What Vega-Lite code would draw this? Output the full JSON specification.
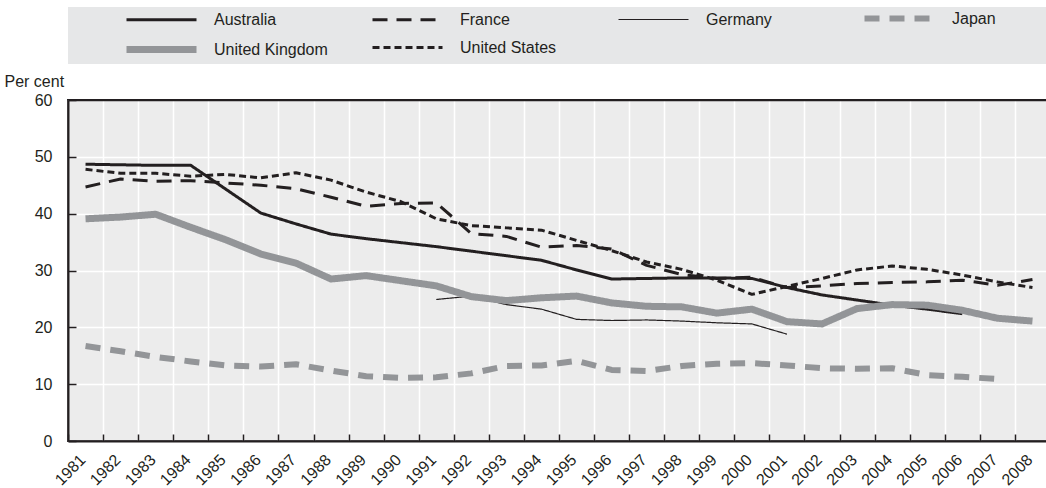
{
  "$schema": "https://vega.github.io/schema/vega-lite/v6.json",
  "width": 982,
  "height": 341,
  "autosize": {"type": "none"},
  "padding": {"left": 68, "top": 100, "right": 0, "bottom": 47},
  "background": "white",
  "config": {
    "font": "Liberation Sans",
    "view": {"fill": "#ececec", "stroke": "#231f20", "strokeWidth": 2},
    "axis": {"labelFont": "Liberation Sans", "labelFontSize": 16, "labelColor": "#231f20", "domainColor": "#231f20", "tickColor": "#231f20"}
  },
  "data": {
    "values": [
      {"c": "Australia", "y": 1981, "v": 48.7}, {"c": "Australia", "y": 1982, "v": 48.6}, {"c": "Australia", "y": 1983, "v": 48.5}, {"c": "Australia", "y": 1984, "v": 48.5}, {"c": "Australia", "y": 1985, "v": 44.3}, {"c": "Australia", "y": 1986, "v": 40.1}, {"c": "Australia", "y": 1987, "v": 38.2}, {"c": "Australia", "y": 1988, "v": 36.4}, {"c": "Australia", "y": 1989, "v": 35.6}, {"c": "Australia", "y": 1990, "v": 34.9}, {"c": "Australia", "y": 1991, "v": 34.2}, {"c": "Australia", "y": 1992, "v": 33.4}, {"c": "Australia", "y": 1993, "v": 32.6}, {"c": "Australia", "y": 1994, "v": 31.8}, {"c": "Australia", "y": 1995, "v": 30.1}, {"c": "Australia", "y": 1996, "v": 28.5}, {"c": "Australia", "y": 1997, "v": 28.6}, {"c": "Australia", "y": 1998, "v": 28.7}, {"c": "Australia", "y": 1999, "v": 28.7}, {"c": "Australia", "y": 2000, "v": 28.6}, {"c": "Australia", "y": 2001, "v": 27.0}, {"c": "Australia", "y": 2002, "v": 25.7}, {"c": "Australia", "y": 2003, "v": 24.8}, {"c": "Australia", "y": 2004, "v": 23.9}, {"c": "Australia", "y": 2005, "v": 23.2}, {"c": "Australia", "y": 2006, "v": 22.4},
      {"c": "France", "y": 1981, "v": 44.7}, {"c": "France", "y": 1982, "v": 46.1}, {"c": "France", "y": 1983, "v": 45.7}, {"c": "France", "y": 1984, "v": 45.8}, {"c": "France", "y": 1985, "v": 45.4}, {"c": "France", "y": 1986, "v": 45.0}, {"c": "France", "y": 1987, "v": 44.4}, {"c": "France", "y": 1988, "v": 42.9}, {"c": "France", "y": 1989, "v": 41.3}, {"c": "France", "y": 1990, "v": 41.8}, {"c": "France", "y": 1991, "v": 41.9}, {"c": "France", "y": 1992, "v": 36.5}, {"c": "France", "y": 1993, "v": 36.0}, {"c": "France", "y": 1994, "v": 34.1}, {"c": "France", "y": 1995, "v": 34.4}, {"c": "France", "y": 1996, "v": 33.8}, {"c": "France", "y": 1997, "v": 30.9}, {"c": "France", "y": 1998, "v": 29.3}, {"c": "France", "y": 1999, "v": 28.6}, {"c": "France", "y": 2000, "v": 28.8}, {"c": "France", "y": 2001, "v": 27.0}, {"c": "France", "y": 2002, "v": 27.3}, {"c": "France", "y": 2003, "v": 27.7}, {"c": "France", "y": 2004, "v": 27.9}, {"c": "France", "y": 2005, "v": 28.0}, {"c": "France", "y": 2006, "v": 28.3}, {"c": "France", "y": 2007, "v": 27.4}, {"c": "France", "y": 2008, "v": 28.4},
      {"c": "Germany", "y": 1991, "v": 24.9}, {"c": "Germany", "y": 1992, "v": 25.5}, {"c": "Germany", "y": 1993, "v": 24.0}, {"c": "Germany", "y": 1994, "v": 23.2}, {"c": "Germany", "y": 1995, "v": 21.4}, {"c": "Germany", "y": 1996, "v": 21.2}, {"c": "Germany", "y": 1997, "v": 21.3}, {"c": "Germany", "y": 1998, "v": 21.1}, {"c": "Germany", "y": 1999, "v": 20.8}, {"c": "Germany", "y": 2000, "v": 20.6}, {"c": "Germany", "y": 2001, "v": 18.8},
      {"c": "Japan", "y": 1981, "v": 16.7}, {"c": "Japan", "y": 1982, "v": 15.8}, {"c": "Japan", "y": 1983, "v": 14.8}, {"c": "Japan", "y": 1984, "v": 14.0}, {"c": "Japan", "y": 1985, "v": 13.3}, {"c": "Japan", "y": 1986, "v": 13.1}, {"c": "Japan", "y": 1987, "v": 13.5}, {"c": "Japan", "y": 1988, "v": 12.4}, {"c": "Japan", "y": 1989, "v": 11.4}, {"c": "Japan", "y": 1990, "v": 11.1}, {"c": "Japan", "y": 1991, "v": 11.2}, {"c": "Japan", "y": 1992, "v": 11.9}, {"c": "Japan", "y": 1993, "v": 13.2}, {"c": "Japan", "y": 1994, "v": 13.3}, {"c": "Japan", "y": 1995, "v": 14.1}, {"c": "Japan", "y": 1996, "v": 12.5}, {"c": "Japan", "y": 1997, "v": 12.3}, {"c": "Japan", "y": 1998, "v": 13.2}, {"c": "Japan", "y": 1999, "v": 13.6}, {"c": "Japan", "y": 2000, "v": 13.7}, {"c": "Japan", "y": 2001, "v": 13.3}, {"c": "Japan", "y": 2002, "v": 12.8}, {"c": "Japan", "y": 2003, "v": 12.7}, {"c": "Japan", "y": 2004, "v": 12.8}, {"c": "Japan", "y": 2005, "v": 11.6}, {"c": "Japan", "y": 2006, "v": 11.3}, {"c": "Japan", "y": 2007, "v": 10.9},
      {"c": "United Kingdom", "y": 1981, "v": 39.1}, {"c": "United Kingdom", "y": 1982, "v": 39.4}, {"c": "United Kingdom", "y": 1983, "v": 39.9}, {"c": "United Kingdom", "y": 1984, "v": 37.6}, {"c": "United Kingdom", "y": 1985, "v": 35.4}, {"c": "United Kingdom", "y": 1986, "v": 32.9}, {"c": "United Kingdom", "y": 1987, "v": 31.3}, {"c": "United Kingdom", "y": 1988, "v": 28.5}, {"c": "United Kingdom", "y": 1989, "v": 29.1}, {"c": "United Kingdom", "y": 1990, "v": 28.2}, {"c": "United Kingdom", "y": 1991, "v": 27.3}, {"c": "United Kingdom", "y": 1992, "v": 25.4}, {"c": "United Kingdom", "y": 1993, "v": 24.7}, {"c": "United Kingdom", "y": 1994, "v": 25.2}, {"c": "United Kingdom", "y": 1995, "v": 25.5}, {"c": "United Kingdom", "y": 1996, "v": 24.3}, {"c": "United Kingdom", "y": 1997, "v": 23.7}, {"c": "United Kingdom", "y": 1998, "v": 23.6}, {"c": "United Kingdom", "y": 1999, "v": 22.5}, {"c": "United Kingdom", "y": 2000, "v": 23.2}, {"c": "United Kingdom", "y": 2001, "v": 21.0}, {"c": "United Kingdom", "y": 2002, "v": 20.6}, {"c": "United Kingdom", "y": 2003, "v": 23.3}, {"c": "United Kingdom", "y": 2004, "v": 24.0}, {"c": "United Kingdom", "y": 2005, "v": 23.9}, {"c": "United Kingdom", "y": 2006, "v": 23.0}, {"c": "United Kingdom", "y": 2007, "v": 21.6}, {"c": "United Kingdom", "y": 2008, "v": 21.1},
      {"c": "United States", "y": 1981, "v": 47.8}, {"c": "United States", "y": 1982, "v": 47.1}, {"c": "United States", "y": 1983, "v": 47.1}, {"c": "United States", "y": 1984, "v": 46.6}, {"c": "United States", "y": 1985, "v": 46.9}, {"c": "United States", "y": 1986, "v": 46.3}, {"c": "United States", "y": 1987, "v": 47.2}, {"c": "United States", "y": 1988, "v": 45.9}, {"c": "United States", "y": 1989, "v": 43.8}, {"c": "United States", "y": 1990, "v": 42.1}, {"c": "United States", "y": 1991, "v": 39.1}, {"c": "United States", "y": 1992, "v": 37.9}, {"c": "United States", "y": 1993, "v": 37.5}, {"c": "United States", "y": 1994, "v": 37.1}, {"c": "United States", "y": 1995, "v": 35.3}, {"c": "United States", "y": 1996, "v": 33.5}, {"c": "United States", "y": 1997, "v": 31.5}, {"c": "United States", "y": 1998, "v": 30.2}, {"c": "United States", "y": 1999, "v": 28.3}, {"c": "United States", "y": 2000, "v": 25.8}, {"c": "United States", "y": 2001, "v": 27.2}, {"c": "United States", "y": 2002, "v": 28.6}, {"c": "United States", "y": 2003, "v": 30.1}, {"c": "United States", "y": 2004, "v": 30.8}, {"c": "United States", "y": 2005, "v": 30.2}, {"c": "United States", "y": 2006, "v": 29.2}, {"c": "United States", "y": 2007, "v": 28.0}, {"c": "United States", "y": 2008, "v": 27.0}
    ]
  },
  "mark": {"type": "line", "strokeJoin": "round", "strokeCap": "butt"},
  "encoding": {
    "x": {
      "field": "y", "type": "ordinal", "bandPosition": 0.5,
      "scale": {"type": "band", "paddingInner": 0, "paddingOuter": 0},
      "axis": {"title": null, "tickBand": "extent", "labelAngle": -45, "labelAlign": "right", "labelBaseline": "middle", "labelOffset": -3, "tickSize": -7, "tickWidth": 1.5, "labelPadding": 23, "domainWidth": 2, "grid": true, "gridColor": "white", "gridWidth": 1.5}
    },
    "y": {
      "field": "v", "type": "quantitative",
      "scale": {"domain": [0, 60]},
      "axis": {"values": [0, 10, 20, 30, 40, 50, 60], "title": "Per cent", "titleAngle": 0, "titleAlign": "left", "titleBaseline": "alphabetic", "titleX": -64, "titleY": -14, "titleFontSize": 16, "titleFontWeight": "normal", "titleColor": "#231f20", "titleFont": "Liberation Sans", "tickSize": -8, "tickWidth": 1.5, "labelPadding": 24, "domainWidth": 2, "grid": true, "gridColor": {"condition": {"test": "datum.value === 60", "value": "#231f20"}, "value": "white"}, "gridWidth": 1.5}
    },
    "color": {
      "field": "c", "type": "nominal",
      "scale": {"domain": ["Australia", "France", "Germany", "Japan", "United Kingdom", "United States"], "range": ["#231f20", "#231f20", "#231f20", "#939598", "#939598", "#231f20"]},
      "legend": {"orient": "none", "legendX": 0, "legendY": -93, "direction": "horizontal", "columns": 4, "gridAlign": "all", "columnPadding": 30, "rowPadding": 3, "fillColor": "#e6e7e8", "padding": 0, "title": " ", "titleOrient": "left", "titlePadding": 48, "symbolType": "M0,0H10M27,0", "symbolSize": 196, "labelFontSize": 16, "labelColor": "#231f20", "labelOffset": 77, "labelLimit": 300}
    },
    "strokeDash": {
      "field": "c", "type": "nominal",
      "scale": {"domain": ["Australia", "France", "Germany", "Japan", "United Kingdom", "United States"], "range": [[1, 0], [15, 9], [1, 0], [15, 10], [1, 0], [7, 4]]}
    },
    "strokeWidth": {
      "field": "c", "type": "ordinal",
      "scale": {"type": "ordinal", "domain": ["Australia", "France", "Germany", "Japan", "United Kingdom", "United States"], "range": [3, 3, 1.2, 6, 7, 3]}
    }
  }
}
